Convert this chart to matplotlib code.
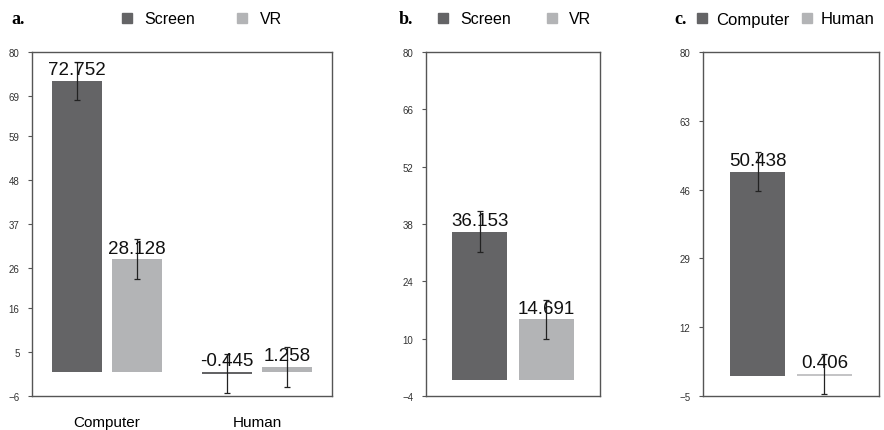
import matplotlib.pyplot as plt
from matplotlib.lines import Line2D

# ======== data ========
groups_a = ["Computer", "Human"]
screen_a = [72.752, -0.445]
vr_a = [28.128, 1.258]
screen_a_err = [4.8, 4.9]
vr_a_err = [5.0, 4.9]

screen_b = [36.153]
vr_b = [14.691]
screen_b_err = [4.9]
vr_b_err = [4.8]

computer_c = [50.438]
human_c = [0.406]
computer_c_err = [4.85]
human_c_err = [5.0]

ticks_a = [-6, 5, 16, 26, 37, 48, 59, 69, 80]
ticks_b = [-4, 10, 24, 38, 52, 66, 80]
ticks_c = [-5, 12, 29, 46, 63, 80]

DARK = "#646466"
LIGHT = "#b3b4b6"
SPINE = "#555555"

plt.rcParams["font.family"] = ["Liberation Sans", "DejaVu Sans"]

W, H = 884, 431
fig = plt.figure(figsize=(W / 100, H / 100), dpi=100)


def make_ax(x0, x1, y0=53, y1=397):
    ax = fig.add_axes([x0 / W, 1 - y1 / H, (x1 - x0) / W, (y1 - y0) / H])
    for s in ax.spines.values():
        s.set_color(SPINE)
        s.set_linewidth(1.0)
    ax.tick_params(axis="y", direction="out", length=3, width=0.8,
                   color=SPINE, labelsize=7, labelcolor="#333333", pad=6)
    ax.tick_params(axis="x", length=0, labelsize=11, pad=14)
    return ax


def bars(ax, xs, vals, errs, color, width):
    ax.bar(xs, vals, width=width, color=color, zorder=2)
    ax.errorbar(xs, vals, yerr=errs, fmt="none", ecolor="#222222",
                elinewidth=0.9, capsize=2.5, capthick=0.9, zorder=3)
    for x, v in zip(xs, vals):
        ax.annotate(f"{v:.3f}", (x, max(v, 0)), xytext=(0, 2),
                    textcoords="offset points", ha="center", va="bottom",
                    fontsize=13.5, color="#111111", zorder=4)


def legend(ax, labels, x_px, spacing, size, pad=0.75):
    handles = [Line2D([], [], marker="s", linestyle="none", markersize=6.5,
                      color=c) for c in (DARK, LIGHT)]
    ax.legend(handles, labels, loc="center left",
              bbox_to_anchor=(x_px / W, 1 - 20 / H),
              bbox_transform=fig.transFigure, ncol=2, frameon=False,
              fontsize=size, handlelength=0.7, handletextpad=pad,
              columnspacing=spacing, borderpad=0, borderaxespad=0)


def letter(x_px, s):
    fig.text(x_px / W, 1 - 20 / H, s, ha="left", va="center", fontsize=13,
             fontweight="bold", family=["Liberation Serif", "DejaVu Serif"])


# ======== a ========
ax = make_ax(32, 332)
xa = list(range(len(groups_a)))
bars(ax, [x - 0.2 for x in xa], screen_a, screen_a_err, DARK, 0.333)
bars(ax, [x + 0.2 for x in xa], vr_a, vr_a_err, LIGHT, 0.333)
ax.set_xlim(-0.5, 1.5)
ax.set_ylim(ticks_a[0], ticks_a[-1])
ax.set_yticks(ticks_a)
ax.set_xticks(xa)
ax.set_xticklabels(groups_a)
letter(11, "a.")
legend(ax, ["Screen", "VR"], 121, 2.6, 11.5)

# ======== b ========
ax = make_ax(426, 600)
bars(ax, [-0.19], screen_b, screen_b_err, DARK, 0.316)
bars(ax, [0.19], vr_b, vr_b_err, LIGHT, 0.316)
ax.set_xlim(-0.5, 0.5)
ax.set_ylim(ticks_b[0], ticks_b[-1])
ax.set_yticks(ticks_b)
ax.set_xticks([])
letter(399, "b.")
legend(ax, ["Screen", "VR"], 437, 2.2, 11.5)

# ======== c ========
ax = make_ax(703, 879)
bars(ax, [-0.19], computer_c, computer_c_err, DARK, 0.31)
bars(ax, [0.19], human_c, human_c_err, "#c4c4c6", 0.31)
ax.set_xlim(-0.5, 0.5)
ax.set_ylim(ticks_c[0], ticks_c[-1])
ax.set_yticks(ticks_c)
ax.set_xticks([])
letter(674, "c.")
legend(ax, ["Computer", "Human"], 696, 0.7, 12, pad=0.5)

fig.savefig("out.png", dpi=100)
plt.close(fig)
